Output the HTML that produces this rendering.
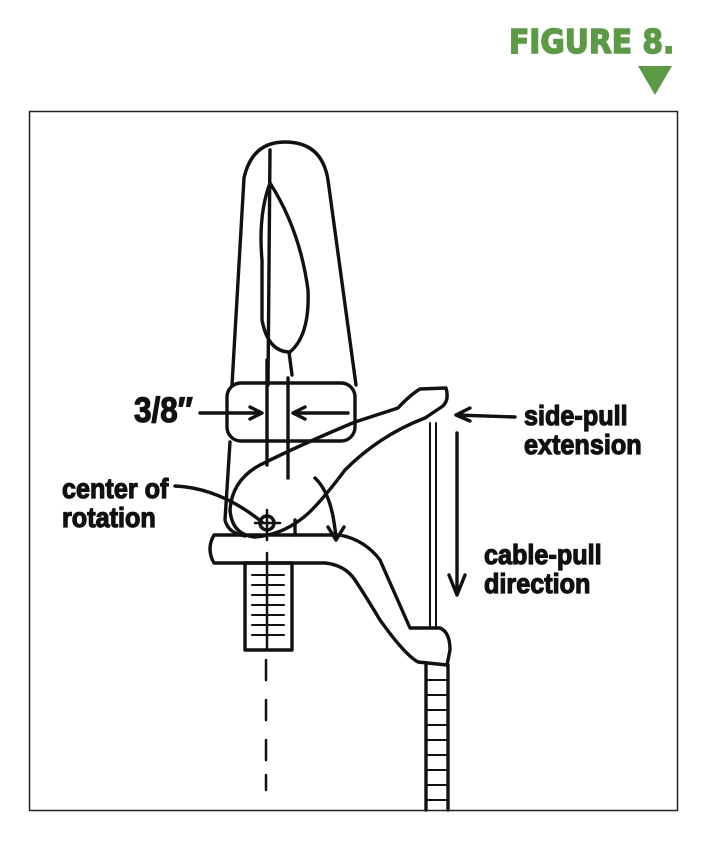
<!DOCTYPE html>
<html><head><style>
body{margin:0;width:711px;height:843px;background:#fff;overflow:hidden;position:relative;font-family:"Liberation Sans",sans-serif}
.t{position:absolute;font-weight:bold;color:#111;line-height:29px;font-size:28px;transform-origin:0 0;transform:scaleX(.9);white-space:nowrap;-webkit-text-stroke:1.2px #111}
</style></head><body>
<div class="t" style="left:509px;top:24px;color:#5c9a46;-webkit-text-stroke:1.5px #5c9a46;font-size:33px;line-height:36px;transform:scaleX(.9);font-family:'DejaVu Sans',sans-serif">FIGURE 8.</div>
<svg width="711" height="843" style="position:absolute;left:0;top:0">
<polygon points="638,66 672,66 655,95" fill="#5c9a46"/>
<rect x="29.5" y="111.5" width="648" height="699" fill="none" stroke="#222" stroke-width="1.5"/>
<g fill="none" stroke="#111" stroke-width="3.4" stroke-linecap="round" stroke-linejoin="round">
<path d="M232 385 L244 178 Q252 142 285 142 Q322 142 328 180 L356 385"/>
<path d="M270 150 L268 385"/>
<path d="M270 183 Q300 230 308 290 Q310 335 290 352 Q268 352 262 320 Q262 290 262 260 Q258 215 270 183"/>
<path d="M289 352 L292 375"/>
<rect x="227" y="383" width="128" height="58" rx="14"/>
<path d="M267 360 L267 465 M288 378 L288 478"/>
<path d="M200 413 L262 413 M250 407 L262 413 L250 419"/>
<path d="M348 413 L293 413 M305 407 L293 413 L305 419"/>
<path d="M230 442 L225 520 Q228 533 245 536"/>
<path d="M355 422 L398 408 Q410 395 420 389 L446 388 Q450 402 440 408 L425 418 Q380 435 345 470 Q315 510 300 520 Q280 535 255 537 Q232 535 230 510 Q232 480 260 465 Q300 445 355 422"/>
<path d="M295 520 L295 535"/>
<path d="M214 535 L340 535 Q365 540 380 560 L410 628 L440 628 Q450 632 450 650 L447 665 L418 662 Q405 655 380 620 Q365 595 355 580 Q345 565 325 563 L214 563 Q206 549 214 535 Z"/>
<rect x="245" y="563" width="47" height="87"/>
<path d="M252 575h32 M252 585h32 M252 595h32 M252 605h32 M252 615h32 M252 625h32 M252 635h32" stroke-width="2"/>
<path d="M267 553 L267 650" stroke-width="2.5"/>
<path d="M266 660 L266 680 M266 700 L266 720 M266 740 L266 760 M266 775 L266 790" stroke-width="2.5"/>
<circle cx="267" cy="523" r="7"/>
<path d="M255 523 L280 523 M267 510 L267 540" stroke-width="2.5"/>
<path d="M175 486 Q220 488 262 522"/>
<path d="M315 478 Q333 495 336 540 M328 527 L336 540 L344 527"/>
<path d="M430 423 L430 628 M436 423 L436 628" stroke-width="2"/>
<path d="M426 665 L426 810 M448 665 L448 810"/>
<path d="M428 680h18 M428 695h18 M428 710h18 M428 725h18 M428 740h18 M428 755h18 M428 770h18 M428 785h18 M428 800h18" stroke-width="2"/>
<path d="M457 433 L457 595 M449 575 L457 595 L465 575"/>
<path d="M515 417 L456 415 M470 408 L456 415 L470 421"/>
</g>
</svg>
<div class="t" style="left:134px;top:393px;font-size:35px;line-height:36px;transform:scaleX(.9)">3/8″</div>
<div class="t" style="left:62px;top:474px">center of<br>rotation</div>
<div class="t" style="left:524px;top:401px">side-pull<br>extension</div>
<div class="t" style="left:484px;top:540px">cable-pull<br>direction</div>
</body></html>
